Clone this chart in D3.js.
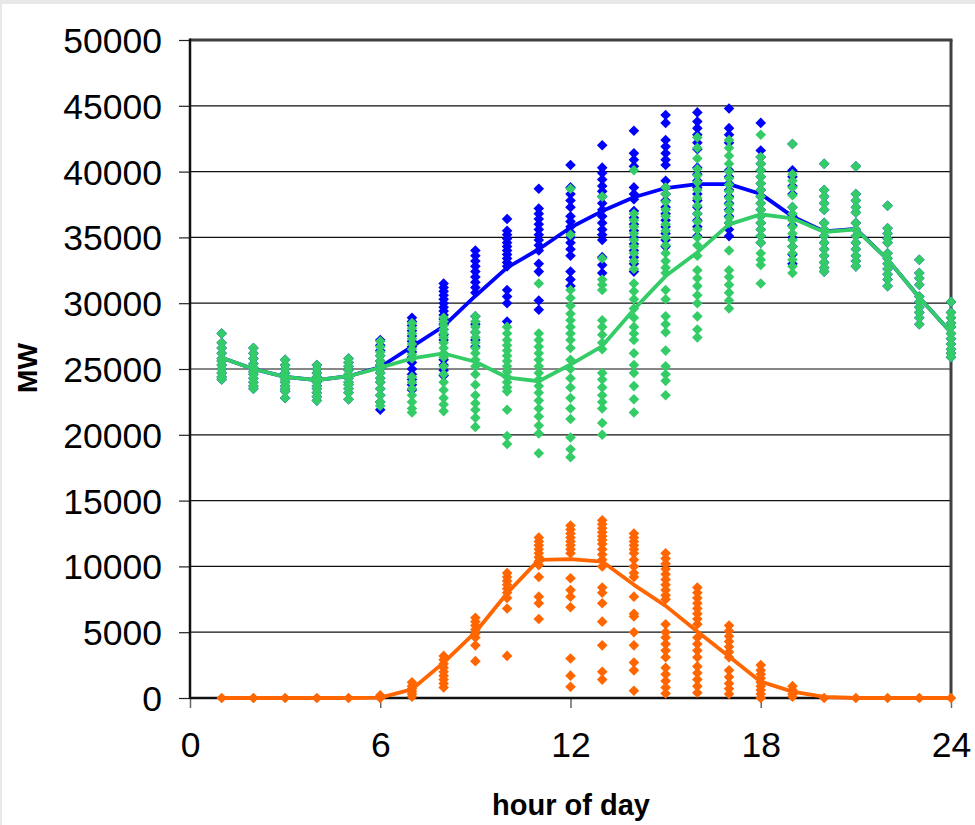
<!DOCTYPE html>
<html>
<head>
<meta charset="utf-8">
<script src="https://cdn.jsdelivr.net/npm/d3@7"></script>
<style>
  body { margin: 0; background: #e8e8e8; }
  svg { display: block; }
  text { font-family: "Liberation Sans", Arial, sans-serif; fill: #000; }
</style>
</head>
<body>
<div id="chart"></div>
<script>
// hours on the x axis
var hours = [1, 2, 3, 4, 5, 6, 7, 8, 9, 10, 11, 12, 13, 14, 15, 16, 17, 18, 19, 20, 21, 22, 23, 24];
var xTicks = [0, 6, 12, 18, 24];
var yTicks = [0, 5000, 10000, 15000, 20000, 25000, 30000, 35000, 40000, 45000, 50000];

// average lines (MW)
var demandMean = [25850, 25000, 24400, 24150, 24450, 25150, 26700, 28250, 30550, 32700, 34100, 35750, 37000, 38050, 38750, 39050, 39050, 38300, 36600, 35450, 35650, 33330, 30440, 27780];
var netMean = [25850, 25000, 24400, 24150, 24450, 25100, 25800, 26180, 25550, 24350, 24070, 25340, 26740, 29530, 32060, 33860, 35990, 36750, 36450, 35410, 35610, 33330, 30440, 27780];
var solarMean = [0, 0, 0, 0, 0, 30, 660, 2690, 5000, 7960, 10500, 10550, 10370, 8600, 7000, 5050, 3150, 1240, 480, 80, 0, 0, 0, 0];

// daily values for each hour (one list per hour)
var demandPts = [
  [27700, 27000, 26600, 26200, 25800, 25600, 25300, 25000, 24700, 24400, 24200],
  [26600, 26200, 25800, 25400, 25100, 24800, 24600, 24300, 24000, 23700, 23500],
  [25700, 25300, 25000, 24700, 24400, 24200, 24000, 23700, 23500, 23300, 22800],
  [25300, 25000, 24700, 24400, 24200, 24000, 23700, 23500, 23200, 22900, 22600],
  [25800, 25500, 25200, 24900, 24600, 24300, 24000, 23800, 23500, 23200, 22700],
  [27200, 26800, 26400, 26000, 25600, 25300, 25000, 24700, 24300, 24000, 23500, 23000, 22500, 21900],
  [28900, 28600, 28300, 27900, 27500, 27100, 26700, 26300, 25900, 25500, 25000, 24600, 24200, 23800, 23400],
  [31500, 31200, 30900, 30600, 30300, 30000, 29700, 29400, 29100, 28800, 28400, 28000, 27600, 27200, 25700, 25300, 24900, 24500],
  [34000, 33600, 33200, 32800, 32400, 32000, 31600, 31200, 30800, 29000, 28400, 27800, 27200, 26700],
  [36400, 35500, 35200, 34900, 34600, 34300, 34000, 33700, 33400, 33100, 32800, 31000, 30500, 30000, 28600],
  [38700, 37200, 36800, 36400, 36000, 35600, 35200, 34800, 34400, 34000, 33000, 32400, 30200, 29500],
  [40500, 38800, 38300, 37800, 37300, 36600, 36200, 35800, 35400, 35000, 34600, 34100, 33600, 32400, 31800, 31300],
  [42000, 40300, 39900, 39400, 38900, 38500, 38100, 37600, 37100, 36600, 36100, 35600, 35200, 34800, 33500, 32900, 32300],
  [43100, 41400, 40900, 40400, 38800, 38300, 37900, 37000, 36500, 36000, 35500, 35000, 34500, 34000, 33500, 33000, 32400],
  [44300, 43700, 42400, 41900, 41400, 40900, 40500, 39300, 38800, 38300, 37800, 37300, 36800, 36300, 35800, 35300, 34800, 34300],
  [44500, 43800, 43300, 42800, 42200, 41700, 40300, 39800, 39300, 38800, 38300, 37800, 37300, 36800, 36300, 35800, 35100],
  [44800, 43300, 42800, 42200, 40100, 39600, 39100, 38600, 38100, 37600, 37100, 36600, 36100, 35600, 35100],
  [43700, 41600, 41100, 40600, 40100, 39600, 39100, 38600, 38100, 37600, 37100, 36600, 36100, 35600, 35100, 34600],
  [42100, 40100, 39600, 38900, 38300, 37300, 36600, 35900, 35000, 34300, 33700, 33000],
  [40600, 38600, 38100, 37600, 37100, 36100, 35600, 35100, 34600, 34100, 33600, 33100, 32700, 32400],
  [40400, 38300, 37800, 37300, 36900, 36100, 35600, 35100, 34600, 34100, 33600, 33200, 32800],
  [37400, 35700, 35300, 34900, 34600, 33800, 33400, 33000, 32600, 32200, 31800, 31300],
  [33300, 32300, 31900, 31400, 30500, 30100, 29700, 29300, 28900, 28400],
  [30100, 29300, 28900, 28500, 28200, 27700, 27300, 26900, 26500, 26200, 25900]
];

var netPts = [
  [27700, 27000, 26600, 26200, 25800, 25600, 25300, 25000, 24700, 24400, 24200],
  [26600, 26200, 25800, 25400, 25100, 24800, 24600, 24300, 24000, 23700, 23500],
  [25700, 25300, 25000, 24700, 24400, 24200, 24000, 23700, 23500, 23300, 22800],
  [25300, 25000, 24700, 24400, 24200, 24000, 23700, 23500, 23200, 22900, 22600],
  [25800, 25500, 25200, 24900, 24600, 24300, 24000, 23800, 23500, 23200, 22700],
  [27100, 26700, 26300, 26000, 25600, 25300, 25000, 24700, 24300, 24000, 23500, 23000, 22500, 22200],
  [28500, 28100, 27700, 27300, 26900, 26500, 26100, 25800, 24400, 24000, 23500, 23000, 22500, 22000, 21700],
  [28900, 28600, 28300, 28000, 27700, 27400, 27000, 26600, 26200, 25900, 25200, 24600, 24000, 23400, 22800, 22300, 21800],
  [29000, 28600, 28200, 27800, 27400, 27000, 26600, 26200, 25700, 25200, 24600, 23800, 23000, 22400, 21900, 21300, 20600],
  [28200, 27700, 27200, 26800, 26400, 26000, 25600, 25200, 24800, 24400, 24000, 23600, 23300, 21900, 19900, 19300],
  [31500, 27700, 27200, 26700, 26200, 25700, 25200, 24700, 24200, 23700, 23200, 22600, 22000, 21400, 20700, 20100, 18600],
  [38700, 35200, 31000, 30400, 29800, 29200, 28700, 28200, 27700, 27200, 26600, 25700, 25000, 24300, 23600, 22800, 22000, 21200, 19800, 18900, 18300],
  [38100, 33400, 31800, 31400, 31000, 28700, 28200, 27600, 27000, 26500, 24700, 24200, 23600, 23000, 22500, 22000, 20900, 20000],
  [40100, 36800, 36300, 35800, 35300, 34800, 34300, 33800, 33200, 32600, 31500, 30900, 30300, 29600, 28900, 28200, 27700, 27200, 26200, 25300, 24700, 23700, 22700, 21700],
  [38800, 38300, 37700, 37100, 36600, 36000, 35500, 35000, 34400, 33800, 33200, 32700, 32300, 31000, 30300, 29000, 28400, 27800, 26400, 25200, 24600, 24100, 23000],
  [42600, 41800, 41000, 40200, 39700, 39200, 38600, 38000, 37400, 36800, 36200, 35600, 35000, 34400, 33600, 32500, 31900, 31300, 30600, 30000, 29000, 28000, 27400],
  [42400, 41800, 41200, 40600, 40000, 39500, 39000, 38500, 38000, 37500, 37000, 36500, 36100, 34000, 32500, 32000, 31400, 30800, 30200, 29600],
  [42800, 41100, 40600, 40100, 39600, 39100, 38600, 38100, 37600, 37100, 36600, 36100, 35600, 35100, 34600, 33800, 33300, 32900, 31500],
  [42100, 39800, 39300, 38800, 38200, 37300, 36800, 36300, 35800, 35300, 34800, 34300, 33800, 33300, 32800, 32300],
  [40600, 38600, 38100, 37600, 37100, 36100, 35600, 35100, 34600, 34100, 33600, 33100, 32700, 32400],
  [40400, 38300, 37800, 37300, 36900, 36100, 35600, 35100, 34600, 34100, 33600, 33200, 32800],
  [37400, 35700, 35300, 34900, 34600, 33800, 33400, 33000, 32600, 32200, 31800, 31300],
  [33300, 32300, 31900, 31400, 30500, 30100, 29700, 29300, 28900, 28400],
  [30100, 29300, 28900, 28500, 28200, 27700, 27300, 26900, 26500, 26200, 25900]
];

var solarPts = [
  [0], [0], [0], [0], [0], [200, 0],
  [1200, 900, 700, 500, 300, 100],
  [3200, 2900, 2600, 2300, 2000, 1700, 1400, 1100, 800],
  [6100, 5800, 5500, 5200, 4900, 4600, 4000, 2800],
  [9500, 9200, 8900, 8600, 8300, 8000, 7600, 6800, 3200],
  [12200, 11900, 11600, 11300, 11000, 10700, 10400, 10100, 9200, 7700, 7200, 6000],
  [13100, 12800, 12500, 12200, 11900, 11600, 11300, 11000, 9100, 8200, 7700, 6900, 3000, 1700, 850],
  [13500, 13200, 12900, 12600, 12300, 12000, 11700, 11300, 10900, 10500, 10000, 8400, 8000, 7200, 5800, 4000, 2000, 1400],
  [12500, 12200, 11900, 11600, 11300, 11000, 10500, 10000, 9500, 9200, 7700, 6400, 6200, 5000, 4000, 2700, 2100, 550],
  [11000, 10600, 10200, 9800, 9400, 9000, 8600, 8200, 7800, 7500, 5600, 5000, 4600, 4100, 3600, 3100, 2300, 1800, 1300, 800, 350],
  [8400, 8000, 7600, 7200, 6800, 6400, 6000, 5600, 4600, 4100, 3600, 3100, 2400, 1900, 1400, 900, 400],
  [5500, 5100, 4700, 4300, 3900, 3500, 3100, 2100, 1600, 1100, 700, 300],
  [2500, 2100, 1800, 1500, 1200, 900, 600, 300, 0],
  [900, 600, 300, 100],
  [0], [0], [0], [0], [0]
];

var blue = "#0000ff", green = "#33cc66", orange = "#ff6600";

var width = 975, height = 825;
// plot box edges (window.top is read-only, so no "top" here)
var plotL = 190, plotR = 951, plotT = 40, plotB = 698;

var svg = d3.select("#chart").append("svg")
    .attr("width", width)
    .attr("height", height);

// gray border like the screenshot
svg.append("rect").attr("width", width).attr("height", height).attr("fill", "#e8e8e8");
svg.append("rect").attr("x", 2).attr("y", 4).attr("width", width - 2).attr("height", height - 4).attr("fill", "#fff");

var x = d3.scaleLinear().domain([0, 24]).range([plotL, plotR]);
var y = d3.scaleLinear().domain([0, 50000]).range([plotB, plotT]);

// gridlines
svg.append("g")
    .selectAll("line")
    .data(yTicks.filter(function(d) { return d > 0 && d < 50000; }))
    .enter().append("line")
    .attr("x1", plotL).attr("x2", plotR)
    .attr("y1", function(d) { return y(d); })
    .attr("y2", function(d) { return y(d); })
    .attr("stroke", "#111")
    .attr("stroke-width", 1.2);

// y axis
var yAxis = svg.append("g")
    .attr("transform", "translate(" + plotL + ",0)")
    .call(d3.axisLeft(y).tickValues(yTicks).tickSize(11).tickPadding(17).tickFormat(d3.format("d")));
yAxis.select(".domain").remove();
yAxis.selectAll(".tick line").attr("stroke", "#222").attr("stroke-width", 1.2);
yAxis.selectAll("text").style("font-size", "35.5px").attr("dy", "0.35em");

// x axis
var xAxis = svg.append("g")
    .attr("transform", "translate(0," + plotB + ")")
    .call(d3.axisBottom(x).tickValues(xTicks).tickSize(10).tickPadding(24));
xAxis.select(".domain").remove();
xAxis.selectAll(".tick line").attr("stroke", "#666").attr("stroke-width", 1.5);
xAxis.selectAll("text").style("font-size", "35.5px").attr("dy", "0.71em");

// frame
svg.append("line").attr("x1", plotL).attr("x2", plotR + 1.5).attr("y1", plotT).attr("y2", plotT)
    .attr("stroke", "#404040").attr("stroke-width", 3);
svg.append("line").attr("x1", plotR).attr("x2", plotR).attr("y1", plotT).attr("y2", plotB)
    .attr("stroke", "#404040").attr("stroke-width", 3);
svg.append("line").attr("x1", plotL).attr("x2", plotL).attr("y1", plotT - 1.5).attr("y2", plotB + 1)
    .attr("stroke", "#111").attr("stroke-width", 2.5);
svg.append("line").attr("x1", plotL).attr("x2", plotR).attr("y1", plotB).attr("y2", plotB)
    .attr("stroke", "#111").attr("stroke-width", 2.5);

// axis titles
svg.append("text")
    .attr("x", (plotL + plotR) / 2 + 0.5).attr("y", 815)
    .attr("text-anchor", "middle")
    .style("font-size", "29px").style("font-weight", "bold")
    .text("hour of day");
svg.append("text")
    .attr("transform", "translate(37,368) rotate(-90)")
    .attr("text-anchor", "middle")
    .style("font-size", "28px").style("font-weight", "bold")
    .text("MW");

var diamond = "M0,-5.3L5.3,0L0,5.3L-5.3,0Z";

function flatten(pts) {
  var out = [];
  pts.forEach(function(list, i) {
    list.forEach(function(v) { out.push({ h: hours[i], v: v }); });
  });
  return out;
}

function drawPoints(pts, color) {
  svg.append("g")
    .selectAll("path")
    .data(flatten(pts))
    .enter().append("path")
    .attr("d", diamond)
    .attr("transform", function(d) { return "translate(" + x(d.h) + "," + y(d.v) + ")"; })
    .attr("fill", color);
}

var line = d3.line()
    .x(function(d, i) { return x(hours[i]); })
    .y(function(d) { return y(d); });

function drawLine(vals, color) {
  svg.append("path")
    .datum(vals)
    .attr("d", line)
    .attr("fill", "none")
    .attr("stroke", color)
    .attr("stroke-width", 3.8)
    .attr("stroke-linejoin", "round");
}

drawPoints(demandPts, blue);
drawLine(demandMean, blue);
drawPoints(netPts, green);
drawLine(netMean, green);
drawPoints(solarPts, orange);
drawLine(solarMean, orange);
</script>
</body>
</html>
